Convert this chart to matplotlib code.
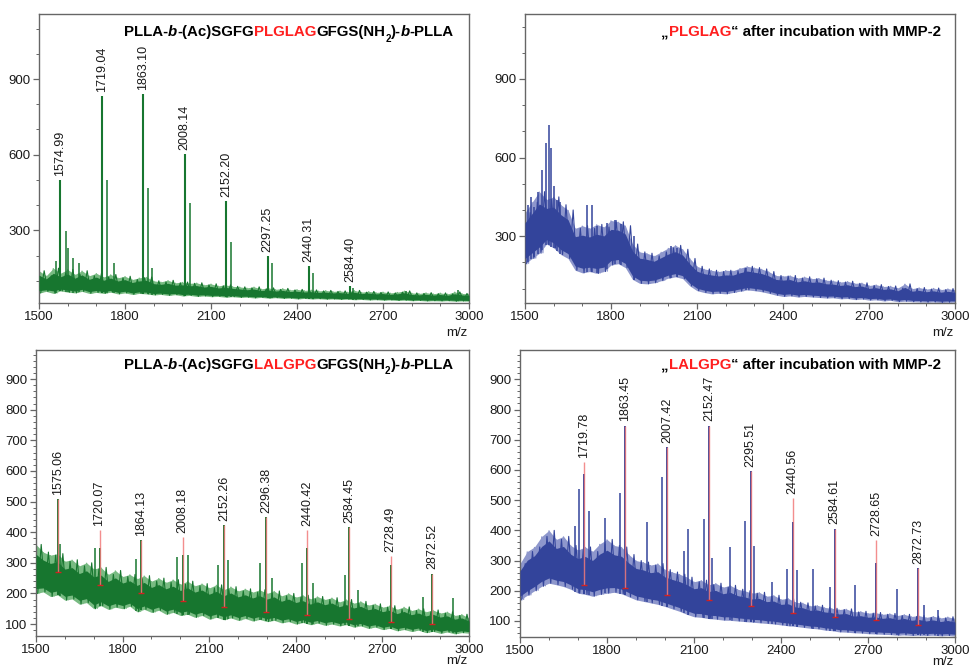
import numpy as np
import matplotlib
matplotlib.use("Agg")
import matplotlib.pyplot as plt
from matplotlib.ticker import MultipleLocator

plt.rcParams['font.family'] = ['Liberation Sans', 'DejaVu Sans']

# ---------------- data ----------------
mz_grid = np.arange(1500, 3001, 25)

# Panel A: PLLA-b-(Ac)SGFGPLGLAGGFGS(NH2)-b-PLLA  (noise band envelope)
A_upper = [140, 120, 150, 130, 145, 125, 140, 120, 130, 115, 125, 112, 118, 105, 112, 115,
           100, 96, 102, 92, 95, 90, 92, 84, 88, 80, 84, 78, 76, 72, 76, 68, 72, 66, 70, 64,
           66, 62, 64, 60, 62, 58, 60, 56, 62, 55, 58, 54, 56, 52, 55, 60, 52, 50, 53, 49,
           52, 48, 56, 50, 48]
A_lower = [52, 58, 50, 60, 55, 52, 58, 50, 54, 50, 55, 48, 52, 46, 50, 48, 44, 46, 42, 45,
           40, 42, 38, 40, 37, 38, 35, 37, 34, 35, 32, 34, 31, 33, 30, 31, 28, 30, 28, 29,
           27, 28, 26, 27, 25, 26, 24, 25, 23, 24, 22, 23, 21, 22, 20, 21, 20, 21, 19, 20, 19]
A_peak_mz = [1574.99, 1719.04, 1863.10, 2008.14, 2152.20, 2297.25, 2440.31, 2584.40]
A_peak_h = [499, 831, 840, 604, 415, 197, 157, 78]
A_peak_lbl = ["1574.99", "1719.04", "1863.10", "2008.14", "2152.20", "2297.25", "2440.31", "2584.40"]
A_minor_mz = [1558, 1593, 1601, 1619, 1640, 1737, 1760, 1881, 1895, 2026, 2169, 2312, 2456, 2597, 2780, 2960]
A_minor_h = [177, 296, 230, 190, 170, 501, 170, 470, 150, 408, 254, 170, 131, 70, 60, 65]

# Panel B: "PLGLAG" after incubation with MMP-2
B_upper = [390, 430, 470, 440, 450, 420, 400, 330, 340, 330, 345, 335, 360, 355, 340, 270,
           240, 235, 225, 240, 255, 265, 250, 215, 185, 175, 170, 165, 170, 168, 178, 185,
           180, 175, 165, 150, 148, 150, 140, 145, 138, 140, 132, 130, 125, 128, 120, 122,
           112, 115, 108, 110, 102, 118, 100, 104, 98, 102, 96, 100, 95]
B_lower = [195, 215, 235, 270, 255, 230, 215, 170, 160, 165, 158, 165, 190, 195, 180, 135,
           120, 118, 122, 130, 140, 145, 138, 110, 92, 85, 80, 82, 80, 85, 90, 95, 92, 88,
           82, 75, 70, 72, 68, 70, 68, 66, 64, 65, 61, 62, 58, 60, 56, 57, 53, 55, 50, 52,
           50, 49, 48, 49, 47, 48, 48]
B_minor_mz = [1510, 1522, 1530, 1545, 1558, 1572, 1582, 1592, 1600, 1612, 1622, 1718, 1733,
              1750, 1785, 1814, 1835, 1880, 2010, 2030, 2270]
B_minor_h = [420, 450, 410, 468, 553, 655, 725, 636, 490, 440, 430, 419, 419, 340, 350, 361,
             345, 300, 262, 255, 180]

# Panel C: PLLA-b-(Ac)SGFGLALGPGGFGS(NH2)-b-PLLA
C_upper = [360, 335, 325, 330, 305, 310, 290, 300, 280, 285, 262, 275, 255, 262, 248, 258,
           240, 250, 236, 245, 230, 240, 225, 232, 218, 228, 212, 222, 208, 215, 204, 212,
           200, 208, 192, 200, 188, 194, 182, 190, 180, 186, 172, 180, 168, 174, 162, 166,
           155, 160, 148, 156, 144, 150, 140, 146, 136, 140, 128, 132, 120]
C_lower = [200, 205, 190, 195, 178, 182, 165, 170, 150, 160, 148, 155, 150, 158, 140, 148,
           138, 145, 132, 138, 128, 132, 122, 128, 116, 122, 114, 120, 112, 118, 110, 115,
           108, 112, 104, 108, 100, 105, 98, 103, 96, 100, 94, 98, 90, 94, 86, 90, 82, 86,
           78, 82, 76, 80, 72, 76, 70, 74, 68, 72, 70]
C_peak_mz = [1575.06, 1720.07, 1864.13, 2008.18, 2152.26, 2296.38, 2440.42, 2584.45, 2728.49, 2872.52]
C_peak_h = [507, 347, 374, 325, 423, 450, 347, 418, 293, 265]
C_mark_top = [507, 407, 374, 385, 423, 450, 407, 418, 322, 265]
C_mark_base = [271, 227, 200, 176, 157, 140, 129, 118, 108, 100]
C_peak_lbl = ["1575.06", "1720.07", "1864.13", "2008.18", "2152.26", "2296.38", "2440.42",
              "2584.45", "2728.49", "2872.52"]
C_minor_mz = [1582, 1705, 1846, 1988, 2028, 2132, 2166, 2276, 2316, 2420, 2460, 2570, 2616, 2841, 2945]
C_minor_h = [363, 347, 314, 320, 325, 293, 309, 298, 249, 298, 233, 260, 211, 189, 184]

# Panel D: "LALGPG" after incubation with MMP-2
D_upper = [290, 330, 345, 380, 400, 370, 380, 350, 335, 345, 330, 355, 370, 350, 345, 320,
           300, 295, 285, 290, 270, 262, 255, 245, 230, 235, 220, 225, 212, 218, 205, 200,
           192, 195, 182, 185, 172, 175, 162, 160, 150, 152, 145, 142, 138, 140, 130, 132,
           126, 128, 122, 125, 118, 122, 115, 118, 112, 116, 110, 114, 108]
D_lower = [170, 185, 200, 215, 225, 220, 214, 205, 192, 188, 182, 188, 192, 195, 190, 180,
           170, 165, 160, 155, 148, 140, 132, 122, 114, 112, 108, 106, 103, 102, 100, 98, 96,
           94, 92, 90, 87, 84, 82, 79, 76, 74, 70, 68, 64, 63, 61, 60, 58, 57, 56, 55, 53,
           54, 52, 53, 52, 53, 51, 52, 50]
D_peak_mz = [1719.78, 1863.45, 2007.42, 2152.47, 2295.51, 2440.56, 2584.61, 2728.65, 2872.73]
D_peak_h = [586, 747, 675, 747, 597, 427, 406, 292, 275]
D_mark_top = [625, 747, 675, 747, 597, 508, 406, 367, 275]
D_mark_base = [220, 209, 187, 170, 148, 126, 114, 103, 87]
D_peak_lbl = ["1719.78", "1863.45", "2007.42", "2152.47", "2295.51", "2440.56", "2584.61",
              "2728.65", "2872.73"]
D_minor_mz = [1691, 1702, 1737, 1794, 1846, 1938, 1989, 2065, 2079, 2134, 2162, 2225, 2277,
              2308, 2368, 2422, 2454, 2512, 2569, 2655, 2800, 2894, 2942]
D_minor_h = [414, 536, 464, 442, 523, 428, 575, 331, 405, 438, 309, 345, 431, 347, 229, 272,
             268, 272, 212, 220, 205, 153, 137]

# ---------------- styling ----------------
GREEN_D, GREEN_L = "#17762f", "#78bb82"
BLUE_D, BLUE_L = "#33449b", "#8e97cc"
RED = "#ff1f1f"
SPINE = "#666666"

fig = plt.figure(figsize=(9.69, 6.71), dpi=100)
axA = fig.add_axes([39/969, 1-303/671, 430/969, 289/671])
axB = fig.add_axes([525/969, 1-303/671, 430/969, 289/671])
axC = fig.add_axes([36/969, 1-636/671, 433/969, 286/671])
axD = fig.add_axes([520/969, 1-637/671, 435/969, 287/671])


def setup(ax, ylim, major, minor, mz_off):
    ax.set_xlim(1500, 3000)
    ax.set_ylim(*ylim)
    ax.xaxis.set_major_locator(MultipleLocator(300))
    ax.xaxis.set_minor_locator(MultipleLocator(100))
    ax.yaxis.set_major_locator(MultipleLocator(major))
    ax.yaxis.set_minor_locator(MultipleLocator(minor))
    for s in ax.spines.values():
        s.set_color(SPINE)
        s.set_linewidth(1.0)
    ax.tick_params(which='both', direction='out', color=SPINE, labelsize=9.5,
                   labelcolor='#1a1a1a', top=False, right=False)
    ax.tick_params(which='major', length=4, width=0.9, pad=2)
    ax.tick_params(which='minor', length=2, width=0.7)
    ax.annotate("m/z", xy=(1, 0), xycoords='axes fraction', xytext=(-1, mz_off),
                textcoords='offset points', ha='right', va='top', fontsize=9.5,
                color='#1a1a1a')


def band(ax, upper, lower, light, dark):
    up = np.asarray(upper, float)
    lo = np.asarray(lower, float)
    rng = up - lo
    ax.fill_between(mz_grid, lo, up, color=light, lw=0, zorder=2)
    ax.fill_between(mz_grid, lo + 0.1 * rng, up - 0.2 * rng, color=dark, lw=0, zorder=3)
    # render the envelope as a dense zig-zag trace to mimic the noisy spectrum
    n = len(mz_grid)
    xs = np.empty(2 * n)
    ys = np.empty(2 * n)
    xs[0::2], ys[0::2] = mz_grid, up
    xs[1::2], ys[1::2] = mz_grid + 12.5, lo
    ax.plot(xs, ys, color=light, lw=0.8, zorder=2.5, solid_joinstyle='miter')
    xs2 = np.empty(2 * n)
    ys2 = np.empty(2 * n)
    xs2[0::2], ys2[0::2] = mz_grid + 6, lo
    xs2[1::2], ys2[1::2] = mz_grid + 18, up
    ax.plot(xs2, ys2, color=dark, lw=0.8, zorder=3.5)


def peaks(ax, mz, h, lower, color, lw, z=4):
    base = np.interp(mz, mz_grid, lower)
    ax.vlines(mz, base, h, color=color, lw=lw, zorder=z)


def labels(ax, mz, top, text):
    for m, t, s in zip(mz, top, text):
        ax.annotate(s, xy=(m, t), xytext=(0, 3), textcoords='offset points',
                    rotation=90, ha='center', va='bottom', fontsize=9, color='#1a1a1a',
                    zorder=7)


def marks(ax, mz, top, base):
    ax.vlines(mz, base, top, color="#f27a7a", lw=1.0, alpha=0.85, zorder=6)
    ax.plot(mz, base, ls='none', marker='_', ms=5, mew=1.0, color="#d42020", zorder=6)


def rich(ax, pieces, x, y, size):
    prev = None
    for text, color, style, rel, dy in reversed(pieces):
        kw = dict(ha='right', va='bottom', fontsize=size * rel, color=color,
                  fontweight='bold', fontstyle=style, zorder=8)
        if prev is None:
            t = ax.annotate(text, xy=(x, y), xycoords='axes fraction',
                            xytext=(0, dy), textcoords='offset points', **kw)
        else:
            t = ax.annotate(text, xy=(0, 0), xycoords=prev[0],
                            xytext=(0, dy - prev[1]), textcoords='offset points', **kw)
        prev = (t, dy)


def title_peptide(ax, seq, y):
    pieces = [("PLLA-", 'k', 'normal', 1, 0), ("b", 'k', 'italic', 1, 0),
              ("-(Ac)SGFG", 'k', 'normal', 1, 0), (seq, RED, 'normal', 1, 0),
              ("GFGS(NH", 'k', 'normal', 1, 0), ("2", 'k', 'normal', 0.65, -3),
              (")-", 'k', 'normal', 1, 0), ("b", 'k', 'italic', 1, 0),
              ("-PLLA", 'k', 'normal', 1, 0)]
    rich(ax, pieces, 0.965, y, 10.8)


def title_mmp(ax, seq, y):
    pieces = [("\u201e", 'k', 'normal', 1, 0), (seq, RED, 'normal', 1, 0),
              ("\u201c after incubation with MMP-2", 'k', 'normal', 1, 0)]
    rich(ax, pieces, 0.968, y, 10.8)


# Panel A
setup(axA, (12, 1158), 300, 100, -17)
band(axA, A_upper, A_lower, GREEN_L, GREEN_D)
peaks(axA, A_minor_mz, A_minor_h, A_lower, GREEN_D, 1.1)
peaks(axA, A_peak_mz, A_peak_h, A_lower, GREEN_D, 1.5)
labels(axA, A_peak_mz, A_peak_h, A_peak_lbl)
title_peptide(axA, "PLGLAG", 0.912)

# Panel B
setup(axB, (45, 1148), 300, 100, -17)
band(axB, B_upper, B_lower, BLUE_L, BLUE_D)
peaks(axB, B_minor_mz, B_minor_h, B_lower, BLUE_D, 1.1)
title_mmp(axB, "PLGLAG", 0.912)

# Panel C
setup(axC, (61, 995), 100, 20, -14)
band(axC, C_upper, C_lower, GREEN_L, GREEN_D)
peaks(axC, C_minor_mz, C_minor_h, C_lower, GREEN_D, 1.1)
peaks(axC, C_peak_mz, C_peak_h, C_lower, GREEN_D, 1.4)
marks(axC, C_peak_mz, C_mark_top, C_mark_base)
labels(axC, C_peak_mz, C_mark_top, C_peak_lbl)
title_peptide(axC, "LALGPG", 0.923)

# Panel D
setup(axD, (47, 997), 100, 20, -14)
band(axD, D_upper, D_lower, BLUE_L, BLUE_D)
peaks(axD, D_minor_mz, D_minor_h, D_lower, BLUE_D, 1.1)
peaks(axD, D_peak_mz, D_peak_h, D_lower, BLUE_D, 1.4)
marks(axD, D_peak_mz, D_mark_top, D_mark_base)
labels(axD, D_peak_mz, D_mark_top, D_peak_lbl)
title_mmp(axD, "LALGPG", 0.923)

fig.savefig("out.png", dpi=100)
